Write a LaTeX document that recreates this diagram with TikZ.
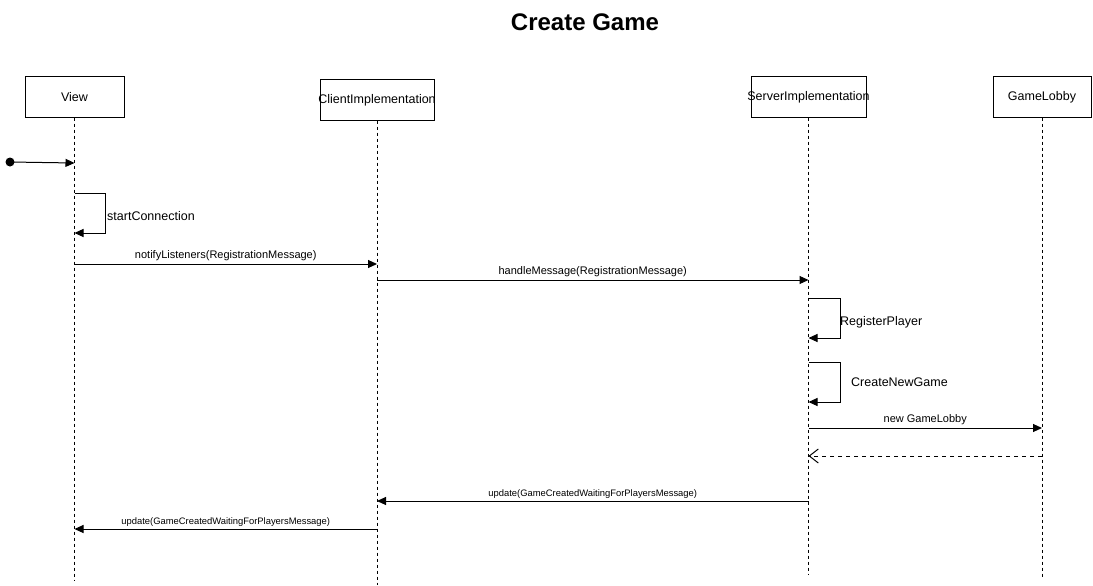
\documentclass[tikz,border=0pt]{standalone}
\usepackage{fontspec}
\setmainfont{Liberation Sans}
\usetikzlibrary{arrows.meta}
\begin{document}
\begin{tikzpicture}[x=1pt,y=-1pt,
  obj/.style={draw,line width=1pt,minimum height=40pt,inner sep=0pt,font=\fontsize{12.5}{14}\selectfont},
  life/.style={line width=1pt,dash pattern=on 3pt off 3pt},
  msg/.style={line width=1pt,-{Triangle[length=9pt,width=8pt]}},
  ret/.style={line width=1pt,dash pattern=on 4pt off 4pt,-{Straight Barb[length=9pt,width=14pt,line width=1pt]}},
  lbl/.style={inner sep=0pt,font=\fontsize{11}{13}\selectfont},
  slbl/.style={inner sep=0pt,font=\fontsize{9.4}{11}\selectfont},
  blbl/.style={inner sep=0pt,anchor=west,font=\fontsize{12.5}{14}\selectfont}]
\useasboundingbox (0,0) rectangle (1093,586);
\node[font=\bfseries\fontsize{24}{28}\selectfont] (title) at (585,22) {Create Game};
% objects
\node[obj,minimum width=99pt] (view) at (74.5,97) {\makebox[0pt]{View}};
\node[obj,minimum width=114pt] (client) at (377,100) {\makebox[0pt]{ClientImplementation}};
\node[obj,minimum width=115pt] (server) at (808.5,97) {\makebox[0pt]{ServerImplementation}};
\node[obj,minimum width=98pt] (lobby) at (1042,97) {\makebox[0pt]{GameLobby}};
% lifeline ends
\coordinate (viewend) at (74.5,580);
\coordinate (clientend) at (377,585);
\coordinate (serverend) at (808.5,575);
\coordinate (lobbyend) at (1042,578);
\draw[life] (view.south) -- (viewend);
\draw[life] (client.south) -- (clientend);
\draw[life] (server.south) -- (serverend);
\draw[life] (lobby.south) -- (lobbyend);
% start
\fill (10,162) circle (4.5pt);
\coordinate (start) at (10,162);
\draw[msg] (start) -- (view.south |- 0,163);
% startConnection
\draw[msg] (view.south |- 0,193) -- (105,193) -- (105,233) -- (view.south |- 0,233);
\node[blbl] (sc) at (107,216) {startConnection};
% notify
\draw[msg] (view.south |- 0,264) -- node[lbl,above=2.5pt] (l1) {notifyListeners(RegistrationMessage)} (client.south |- 0,264);
% handle
\draw[msg] (client.south |- 0,280) -- node[lbl,above=2.5pt] (l2) {handleMessage(RegistrationMessage)} (server.south |- 0,280);
% RegisterPlayer
\draw[msg] (server.south |- 0,298) -- (840,298) -- (840,338) -- (server.south |- 0,338);
\node[blbl] (rp) at (840,322) {RegisterPlayer};
% CreateNewGame
\draw[msg] (server.south |- 0,362) -- (840,362) -- (840,402) -- (server.south |- 0,402);
\node[blbl] (cng) at (851,382) {CreateNewGame};
% new GameLobby
\draw[msg] (server.south |- 0,428) -- node[lbl,above=2.5pt] (l3) {new GameLobby} (lobby.south |- 0,428);
\draw[ret] (lobby.south |- 0,456) -- (server.south |- 0,456);
% updates
\draw[msg] (server.south |- 0,501) -- node[slbl,above=2.5pt] (l4) {update(GameCreatedWaitingForPlayersMessage)} (client.south |- 0,501);
\draw[msg] (client.south |- 0,529) -- node[slbl,above=2.5pt] (l5) {update(GameCreatedWaitingForPlayersMessage)} (view.south |- 0,529);
\end{tikzpicture}
\end{document}
